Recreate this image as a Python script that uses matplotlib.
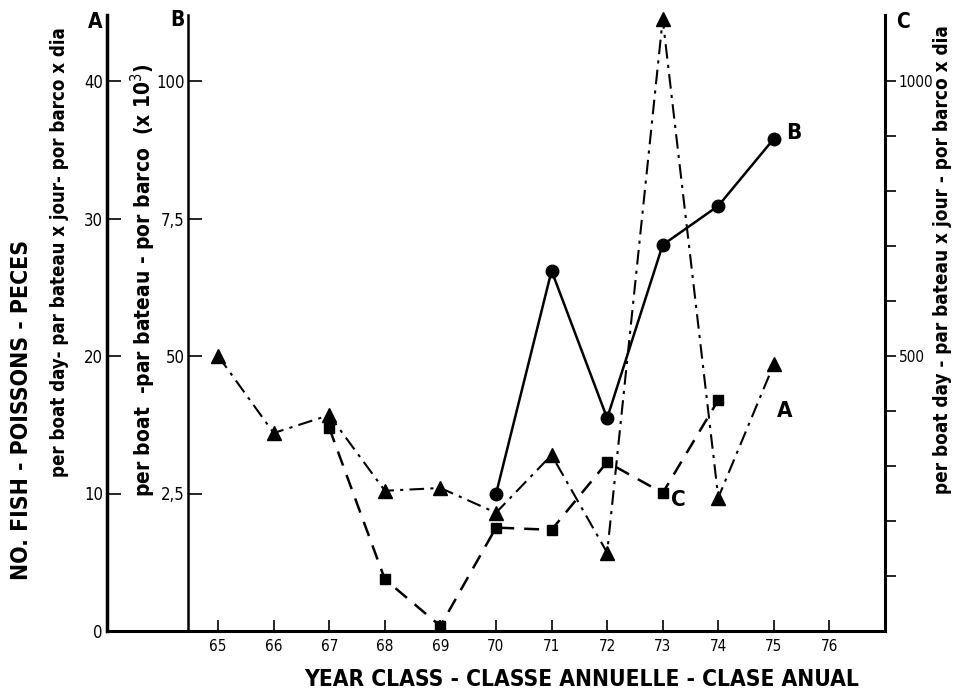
import matplotlib
matplotlib.use("Agg")
import matplotlib.pyplot as plt
from matplotlib.ticker import FixedLocator, FuncFormatter

### DATA ###

years_a = [65, 66, 67, 68, 69, 70, 71, 72, 73, 74, 75]
catch_a = [20.0, 14.4, 15.7, 10.2, 10.4, 8.6, 12.8, 5.7, 44.5, 9.7, 19.4]  # per boat day

years_b = [70, 71, 72, 73, 74, 75]
catch_b = [24.9, 65.5, 38.7, 70.2, 77.3, 89.5]  # per boat (x 10^3)

years_c = [67, 68, 69, 70, 71, 72, 73, 74]
catch_c = [369, 94, 9, 188, 184, 307, 251, 420]  # per boat day

x_ticks = list(range(65, 77))
a_ticks = [0, 10, 20, 30, 40]
b_ticks = [25, 50, 75, 100]
b_tick_labels = ["2,5", "50", "7,5", "100"]
c_ticks = list(range(100, 1001, 100))
c_labelled = [500, 1000]

### PLOT ###

plt.rcParams["font.family"] = ["DejaVu Sans"]
plt.rcParams["font.stretch"] = "condensed"

W, H = 961, 697
fig = plt.figure(figsize=(W / 100, H / 100), dpi=100)

left, right, bottom, top = 107, 885, 631, 15
ax = fig.add_axes([left / W, 1 - bottom / H, (right - left) / W, (bottom - top) / H])
ax_b = ax.twinx()
ax_c = ax.twinx()

ax.set_xlim(63, 77)
ax.set_ylim(0, 44.8)
ax_b.set_ylim(0, 112)
ax_c.set_ylim(0, 1120)

# spines: A on the left edge, B inside at ~64.45, C on the right edge
for a in (ax, ax_b, ax_c):
    for s in a.spines.values():
        s.set_visible(False)
    a.patch.set_visible(False)
ax.spines["left"].set_visible(True)
ax.spines["bottom"].set_visible(True)
ax.spines["left"].set_linewidth(2.5)
ax.spines["bottom"].set_linewidth(2.2)
ax_b.spines["left"].set_visible(True)
ax_b.spines["left"].set_position(("data", 64.45))
ax_b.spines["left"].set_linewidth(1.8)
ax_c.spines["right"].set_visible(True)
ax_c.spines["right"].set_linewidth(2.2)

# x axis
ax.set_xticks(x_ticks)
ax.set_xticklabels([str(y) for y in x_ticks])
ax.tick_params(axis="x", direction="in", length=8, width=1.2, labelsize=11, pad=6)

# axis A
ax.set_yticks(a_ticks)
ax.tick_params(axis="y", direction="in", length=10, width=1.2, labelsize=12, pad=3)

# axis B
ax_b.yaxis.set_ticks_position("left")
ax_b.yaxis.set_label_position("left")
ax_b.set_yticks(b_ticks)
ax_b.set_yticklabels(b_tick_labels)
ax_b.tick_params(axis="y", direction="in", length=10, width=1.2, labelsize=12, pad=2)

# axis C
ax_c.yaxis.set_major_locator(FixedLocator(c_ticks))
ax_c.yaxis.set_major_formatter(FuncFormatter(lambda v, p: f"{int(v)}" if int(v) in c_labelled else ""))
ax_c.tick_params(axis="y", direction="out", length=8, width=1.2, labelsize=11, pad=2)

# series
ax.plot(years_a, catch_a, color="black", linewidth=1.5, dashes=(7, 3, 1.5, 3),
        marker="^", markersize=10, clip_on=False, zorder=3)
ax_b.plot(years_b, catch_b, color="black", linewidth=1.8, linestyle="-",
          marker="o", markersize=9, clip_on=False, zorder=3)
ax_c.plot(years_c, catch_c, color="black", linewidth=1.8, dashes=(6, 4),
          marker="s", markersize=7, clip_on=False, zorder=3)

# series and axis letters
bold = dict(fontweight="bold")
ax_b.text(75.22, catch_b[-1] + 1, "B", fontsize=16, ha="left", va="center", **bold)
ax.text(75.05, catch_a[-1] - 3.4, "A", fontsize=16, ha="left", va="center", **bold)
ax_c.text(73.15, catch_c[6] - 12, "C", fontsize=16, ha="left", va="center", **bold)
fig.text(95 / W, 1 - 22 / H, "A", fontsize=15, ha="center", va="center", **bold)
fig.text(177 / W, 1 - 20 / H, "B", fontsize=15, ha="center", va="center", **bold)
fig.text(903 / W, 1 - 22 / H, "C", fontsize=15, ha="center", va="center", **bold)

# axis titles
fig.text(22 / W, 1 - 410 / H, "NO. FISH - POISSONS - PECES", rotation=90,
         fontsize=16.5, ha="center", va="center", **bold)
fig.text(60 / W, 1 - 252 / H, "per boat day- par bateau x jour- por barco x dia",
         rotation=90, fontsize=13.4, ha="center", va="center", **bold)
fig.text(143 / W, 1 - 280 / H, "per boat  -par bateau - por barco  (x 10$^3$)",
         rotation=90, fontsize=15, ha="center", va="center", **bold)
fig.text(943 / W, 1 - 260 / H, "per boat day - par bateau x jour - por barco x dia",
         rotation=90, fontsize=13.6, ha="center", va="center", **bold)
fig.text(582 / W, 1 - 680 / H, "YEAR CLASS - CLASSE ANNUELLE - CLASE ANUAL",
         fontsize=16.3, ha="center", va="center", **bold)

fig.savefig("out.png", dpi=100)
